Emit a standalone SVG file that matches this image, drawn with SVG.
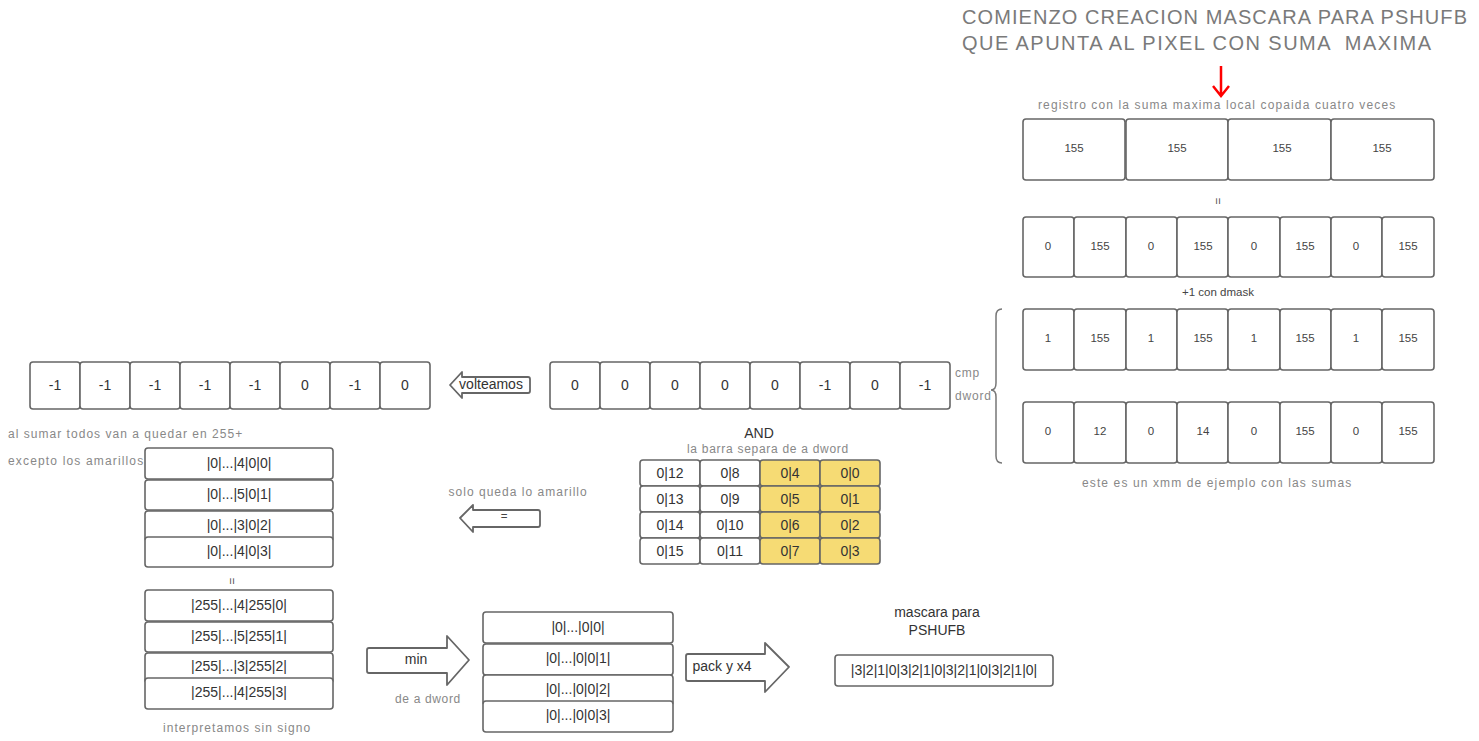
<svg xmlns="http://www.w3.org/2000/svg" width="1479" height="741" viewBox="0 0 1479 741">
<style>
.b{fill:#fff;stroke:#666;stroke-width:1.6}
.y{fill:#f6db74;stroke:#666;stroke-width:1.6}
.t{font-family:"Liberation Sans",Arial,sans-serif;font-size:14px;fill:#333;text-anchor:middle;dominant-baseline:central}
.s{font-family:"Liberation Sans",Arial,sans-serif;font-size:11.5px;fill:#444;text-anchor:middle;dominant-baseline:central}
.g{font-family:"Liberation Sans",Arial,sans-serif;font-size:12px;fill:#888;letter-spacing:0.8px}
.h{font-family:"Liberation Sans",Arial,sans-serif;font-size:20px;fill:#7a7a7a;letter-spacing:1px;white-space:pre}
.ar{fill:#fff;stroke:#666;stroke-width:1.8;stroke-linejoin:round}
</style>
<rect width="1479" height="741" fill="#fff"/>
<g id="title">
<text class="h" x="962" y="24" textLength="506">COMIENZO CREACION MASCARA PARA PSHUFB</text>
<text class="h" x="962" y="50" textLength="470" xml:space="preserve">QUE APUNTA AL PIXEL CON SUMA  MAXIMA</text>
</g>
<g id="connectors">
<path d="M1221 66V96M1213 86L1221 96L1229 86" fill="none" stroke="#f00" stroke-width="2.5"/>
<path d="M1002 309Q996 309 996 316V383Q996 390 991 390Q996 390 996 397V456Q996 463 1002 463" fill="none" stroke="#777" stroke-width="1.5"/>
<g id="arr-volteamos"><path class="ar" d="M450 385L462 372V377H528Q530 377 530 379V391Q530 393 528 393H462V398Z"/><text class="t" x="491" y="384">volteamos</text></g>
<g id="arr-eq"><path class="ar" d="M460 518L473 505V510H538Q540 510 540 512V525Q540 527 538 527H473V532Z"/><text class="s" x="504" y="516">=</text></g>
<g id="arr-min"><path class="ar" d="M367 650Q367 648 369 648H447V636L469 660L447 685V673H369Q367 673 367 671Z"/><text class="t" x="416" y="659">min</text></g>
<g id="arr-pack"><path class="ar" d="M686 656Q686 654 688 654H765V643L789 667L765 692V681H688Q686 681 686 679Z"/><text class="t" x="722" y="666">pack y x4</text></g>
</g>
<g id="labels">
<text class="g" x="1217" y="109" text-anchor="middle" textLength="358">registro con la suma maxima local copaida cuatro veces</text>
<text class="s" x="1218" y="201" transform="rotate(90 1218 201)">=</text>
<text class="s" x="1218" y="292">+1 con dmask</text>
<text class="g" x="955" y="377">cmp</text>
<text class="g" x="955" y="400">dword</text>
<text class="g" x="1217" y="487" text-anchor="middle" textLength="270">este es un xmm de ejemplo con las sumas</text>
<text class="g" x="8" y="438" textLength="235">al sumar todos van a quedar en 255+</text>
<text class="g" x="8" y="465" textLength="136">excepto los amarillos</text>
<text class="t" x="759" y="433">AND</text>
<text class="g" x="768" y="453" text-anchor="middle" textLength="162">la barra separa de a dword</text>
<text class="g" x="518" y="496" text-anchor="middle" textLength="139">solo queda lo amarillo</text>
<text class="s" x="232" y="581" transform="rotate(90 232 581)">=</text>
<text class="g" x="237" y="732" text-anchor="middle" textLength="148">interpretamos sin signo</text>
<text class="g" x="428" y="703" text-anchor="middle" textLength="66">de a dword</text>
<text class="t" x="937" y="612">mascara para</text>
<text class="t" x="937" y="630">PSHUFB</text>
</g>
<g id="reg-top">
<rect class="b" x="1023" y="119" width="102" height="61" rx="3"/><text class="s" x="1074" y="148">155</text>
<rect class="b" x="1126" y="119" width="102" height="61" rx="3"/><text class="s" x="1177" y="148">155</text>
<rect class="b" x="1228" y="119" width="103" height="61" rx="3"/><text class="s" x="1282" y="148">155</text>
<rect class="b" x="1331" y="119" width="103" height="61" rx="3"/><text class="s" x="1382" y="148">155</text>
</g>
<g id="reg-2">
<rect class="b" x="1023" y="217" width="51" height="60" rx="3"/><text class="s" x="1048" y="246">0</text>
<rect class="b" x="1074" y="217" width="52" height="60" rx="3"/><text class="s" x="1100" y="246">155</text>
<rect class="b" x="1126" y="217" width="51" height="60" rx="3"/><text class="s" x="1151" y="246">0</text>
<rect class="b" x="1177" y="217" width="51" height="60" rx="3"/><text class="s" x="1203" y="246">155</text>
<rect class="b" x="1228" y="217" width="52" height="60" rx="3"/><text class="s" x="1254" y="246">0</text>
<rect class="b" x="1280" y="217" width="51" height="60" rx="3"/><text class="s" x="1305" y="246">155</text>
<rect class="b" x="1331" y="217" width="51" height="60" rx="3"/><text class="s" x="1356" y="246">0</text>
<rect class="b" x="1382" y="217" width="52" height="60" rx="3"/><text class="s" x="1408" y="246">155</text>
</g>
<g id="reg-3">
<rect class="b" x="1023" y="309" width="51" height="61" rx="3"/><text class="s" x="1048" y="338">1</text>
<rect class="b" x="1074" y="309" width="52" height="61" rx="3"/><text class="s" x="1100" y="338">155</text>
<rect class="b" x="1126" y="309" width="51" height="61" rx="3"/><text class="s" x="1151" y="338">1</text>
<rect class="b" x="1177" y="309" width="51" height="61" rx="3"/><text class="s" x="1203" y="338">155</text>
<rect class="b" x="1228" y="309" width="52" height="61" rx="3"/><text class="s" x="1254" y="338">1</text>
<rect class="b" x="1280" y="309" width="51" height="61" rx="3"/><text class="s" x="1305" y="338">155</text>
<rect class="b" x="1331" y="309" width="51" height="61" rx="3"/><text class="s" x="1356" y="338">1</text>
<rect class="b" x="1382" y="309" width="52" height="61" rx="3"/><text class="s" x="1408" y="338">155</text>
</g>
<g id="reg-4">
<rect class="b" x="1023" y="402" width="51" height="61" rx="3"/><text class="s" x="1048" y="431">0</text>
<rect class="b" x="1074" y="402" width="52" height="61" rx="3"/><text class="s" x="1100" y="431">12</text>
<rect class="b" x="1126" y="402" width="51" height="61" rx="3"/><text class="s" x="1151" y="431">0</text>
<rect class="b" x="1177" y="402" width="51" height="61" rx="3"/><text class="s" x="1203" y="431">14</text>
<rect class="b" x="1228" y="402" width="52" height="61" rx="3"/><text class="s" x="1254" y="431">0</text>
<rect class="b" x="1280" y="402" width="51" height="61" rx="3"/><text class="s" x="1305" y="431">155</text>
<rect class="b" x="1331" y="402" width="51" height="61" rx="3"/><text class="s" x="1356" y="431">0</text>
<rect class="b" x="1382" y="402" width="52" height="61" rx="3"/><text class="s" x="1408" y="431">155</text>
</g>
<g id="reg-mid">
<rect class="b" x="550" y="362" width="50" height="47" rx="3"/><text class="t" x="575" y="385">0</text>
<rect class="b" x="600" y="362" width="50" height="47" rx="3"/><text class="t" x="625" y="385">0</text>
<rect class="b" x="650" y="362" width="50" height="47" rx="3"/><text class="t" x="675" y="385">0</text>
<rect class="b" x="700" y="362" width="50" height="47" rx="3"/><text class="t" x="725" y="385">0</text>
<rect class="b" x="750" y="362" width="50" height="47" rx="3"/><text class="t" x="775" y="385">0</text>
<rect class="b" x="800" y="362" width="50" height="47" rx="3"/><text class="t" x="825" y="385">-1</text>
<rect class="b" x="850" y="362" width="50" height="47" rx="3"/><text class="t" x="875" y="385">0</text>
<rect class="b" x="900" y="362" width="50" height="47" rx="3"/><text class="t" x="925" y="385">-1</text>
</g>
<g id="reg-left">
<rect class="b" x="30" y="362" width="50" height="47" rx="3"/><text class="t" x="55" y="385">-1</text>
<rect class="b" x="80" y="362" width="50" height="47" rx="3"/><text class="t" x="105" y="385">-1</text>
<rect class="b" x="130" y="362" width="50" height="47" rx="3"/><text class="t" x="155" y="385">-1</text>
<rect class="b" x="180" y="362" width="50" height="47" rx="3"/><text class="t" x="205" y="385">-1</text>
<rect class="b" x="230" y="362" width="50" height="47" rx="3"/><text class="t" x="255" y="385">-1</text>
<rect class="b" x="280" y="362" width="50" height="47" rx="3"/><text class="t" x="305" y="385">0</text>
<rect class="b" x="330" y="362" width="50" height="47" rx="3"/><text class="t" x="355" y="385">-1</text>
<rect class="b" x="380" y="362" width="50" height="47" rx="3"/><text class="t" x="405" y="385">0</text>
</g>
<g id="grid">
<rect class="b" x="640" y="460" width="60" height="26" rx="3"/><text class="t" x="670" y="473">0|12</text>
<rect class="b" x="700" y="460" width="60" height="26" rx="3"/><text class="t" x="730" y="473">0|8</text>
<rect class="y" x="760" y="460" width="60" height="26" rx="3"/><text class="t" x="790" y="473">0|4</text>
<rect class="y" x="820" y="460" width="60" height="26" rx="3"/><text class="t" x="850" y="473">0|0</text>
<rect class="b" x="640" y="486" width="60" height="26" rx="3"/><text class="t" x="670" y="499">0|13</text>
<rect class="b" x="700" y="486" width="60" height="26" rx="3"/><text class="t" x="730" y="499">0|9</text>
<rect class="y" x="760" y="486" width="60" height="26" rx="3"/><text class="t" x="790" y="499">0|5</text>
<rect class="y" x="820" y="486" width="60" height="26" rx="3"/><text class="t" x="850" y="499">0|1</text>
<rect class="b" x="640" y="512" width="60" height="26" rx="3"/><text class="t" x="670" y="525">0|14</text>
<rect class="b" x="700" y="512" width="60" height="26" rx="3"/><text class="t" x="730" y="525">0|10</text>
<rect class="y" x="760" y="512" width="60" height="26" rx="3"/><text class="t" x="790" y="525">0|6</text>
<rect class="y" x="820" y="512" width="60" height="26" rx="3"/><text class="t" x="850" y="525">0|2</text>
<rect class="b" x="640" y="538" width="60" height="26" rx="3"/><text class="t" x="670" y="551">0|15</text>
<rect class="b" x="700" y="538" width="60" height="26" rx="3"/><text class="t" x="730" y="551">0|11</text>
<rect class="y" x="760" y="538" width="60" height="26" rx="3"/><text class="t" x="790" y="551">0|7</text>
<rect class="y" x="820" y="538" width="60" height="26" rx="3"/><text class="t" x="850" y="551">0|3</text>
</g>
<g id="stack1">
<rect class="b" x="145" y="448" width="188" height="31" rx="3"/><text class="t" x="239" y="463">|0|...|4|0|0|</text>
<rect class="b" x="145" y="480" width="188" height="30" rx="3"/><text class="t" x="239" y="494">|0|...|5|0|1|</text>
<rect class="b" x="145" y="511" width="188" height="30" rx="3"/><text class="t" x="239" y="525">|0|...|3|0|2|</text>
<rect class="b" x="145" y="537" width="188" height="30" rx="3"/><text class="t" x="239" y="551">|0|...|4|0|3|</text>
</g>
<g id="stack2">
<rect class="b" x="145" y="590" width="188" height="31" rx="3"/><text class="t" x="239" y="605">|255|...|4|255|0|</text>
<rect class="b" x="145" y="622" width="188" height="30" rx="3"/><text class="t" x="239" y="636">|255|...|5|255|1|</text>
<rect class="b" x="145" y="653" width="188" height="30" rx="3"/><text class="t" x="239" y="666">|255|...|3|255|2|</text>
<rect class="b" x="145" y="678" width="188" height="31" rx="3"/><text class="t" x="239" y="692">|255|...|4|255|3|</text>
</g>
<g id="stack3">
<rect class="b" x="483" y="612" width="190" height="31" rx="3"/><text class="t" x="578" y="627">|0|...|0|0|</text>
<rect class="b" x="483" y="644" width="190" height="31" rx="3"/><text class="t" x="578" y="658">|0|...|0|0|1|</text>
<rect class="b" x="483" y="675" width="190" height="30" rx="3"/><text class="t" x="578" y="689">|0|...|0|0|2|</text>
<rect class="b" x="483" y="701" width="190" height="31" rx="3"/><text class="t" x="578" y="715">|0|...|0|0|3|</text>
</g>
<g id="mask">
<rect class="b" x="835" y="655" width="218" height="31" rx="3"/><text class="t" x="944" y="670">|3|2|1|0|3|2|1|0|3|2|1|0|3|2|1|0|</text>
</g>
</svg>
